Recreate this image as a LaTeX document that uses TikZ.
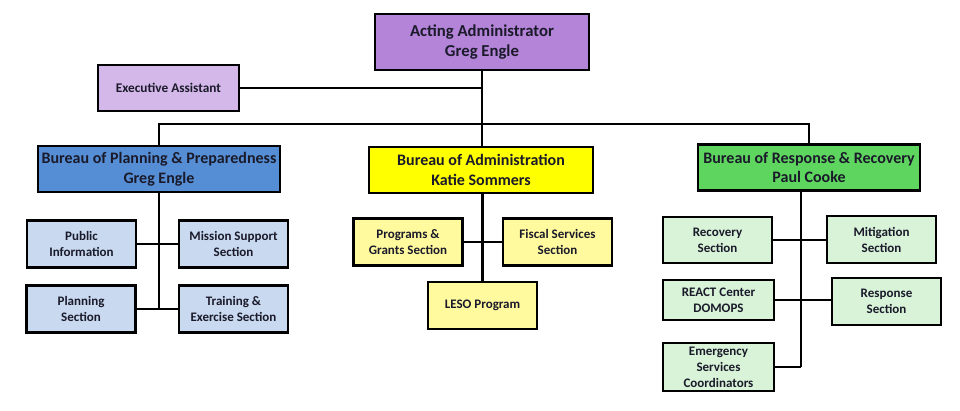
\documentclass[tikz,border=0pt]{standalone}
\usepackage{fontspec}
\setmainfont{Carlito}
\definecolor{purpleA}{HTML}{B384D8}
\definecolor{purpleB}{HTML}{D5B8EA}
\definecolor{blueA}{HTML}{558ED5}
\definecolor{blueB}{HTML}{C9DAF0}
\definecolor{yelA}{HTML}{FFFF00}
\definecolor{yelB}{HTML}{FFFA9E}
\definecolor{grnA}{HTML}{5ED55E}
\definecolor{grnB}{HTML}{D8F3D8}
\definecolor{txt}{HTML}{1A1A2A}
\begin{document}
\begin{tikzpicture}[x=1pt,y=-1pt,
  box/.style={draw=black, line width=2.6pt, align=center, text=txt, inner sep=0pt,
    font=\bfseries\fontsize{13}{16}\selectfont, minimum width=109pt, minimum height=47pt},
  topbox/.style={box, fill=purpleA, font=\bfseries\fontsize{16.7}{20}\selectfont,
    minimum width=214pt, minimum height=56pt},
  bureau/.style={box, font=\bfseries\fontsize{16}{19.5}\selectfont, minimum height=46pt},
  conn/.style={line width=2.6pt}]
\useasboundingbox (0,0) rectangle (960,411);
\fill[white] (0,0) rectangle (960,411);

% top
\node[topbox] (acting) at (482,42) {Acting Administrator\\Greg Engle};
\node[box, fill=purpleB, minimum width=141pt, minimum height=46pt,
  font=\bfseries\fontsize{13.3}{16}\selectfont] (exec) at (168.5,88) {Executive Assistant};

% bureaus
\node[bureau, fill=blueA, minimum width=242pt] (bpp) at (159,169) {Bureau of Planning \& Preparedness\\Greg Engle};
\node[bureau, fill=yelA, minimum width=224pt] (ba) at (481,170) {Bureau of Administration\\Katie Sommers};
\node[bureau, fill=grnA, minimum width=222pt] (brr) at (809,167.5) {Bureau of Response \& Recovery\\Paul Cooke};

% planning sections
\node[box, fill=blueB] (pub) at (81.5,244) {Public\\Information};
\node[box, fill=blueB] (mis) at (233.5,244) {Mission Support\\Section};
\node[box, fill=blueB] (pla) at (81,309) {Planning\\Section};
\node[box, fill=blueB] (tra) at (233.5,309) {Training \&\\Exercise Section};

% administration sections
\node[box, fill=yelB] (pro) at (408,242) {Programs \&\\Grants Section};
\node[box, fill=yelB] (fis) at (557.5,242) {Fiscal Services\\Section};
\node[box, fill=yelB] (les) at (482.5,305.5) {LESO Program};

% response sections
\node[box, fill=grnB, minimum height=46pt] (rec) at (717.5,240) {Recovery\\Section};
\node[box, fill=grnB] (mit) at (881.5,239.5) {Mitigation\\Section};
\node[box, fill=grnB, minimum width=111pt, minimum height=40pt] (rea) at (718.5,300) {REACT Center\\DOMOPS};
\node[box, fill=grnB] (res) at (886.5,301.5) {Response\\Section};
\node[box, fill=grnB, minimum width=111pt, minimum height=48pt] (eme) at (718.5,367) {Emergency\\Services\\Coordinators};

% helper coordinates
\coordinate (bus) at (482,124);
\coordinate (ptrunk) at (159,309);
\coordinate (rtop) at (801,191);
\coordinate (rbot) at (801,367);

% connectors
\draw[conn] (acting.south) -- (acting.south |- ba.north);
\draw[conn] (exec.east) -- (exec.east -| acting.south);
\draw[conn] (bpp.north) -- (bpp.north |- bus) -- (bus -| brr.north) -- (brr.north);
\draw[conn] (bpp.south) -- (ptrunk);
\draw[conn] (pub.east) -- (mis.west);
\draw[conn] (pla.east) -- (tra.west);
\draw[conn] (ba.south -| les.north) -- (les.north);
\draw[conn] (pro.east) -- (fis.west);
\draw[conn] (rtop) -- (rbot);
\draw[conn] (rec.east) -- (rec.east -| mit.west);
\draw[conn] (rea.east) -- (rea.east -| res.west);
\draw[conn] (eme.east) -- (rbot);
\end{tikzpicture}
\end{document}
